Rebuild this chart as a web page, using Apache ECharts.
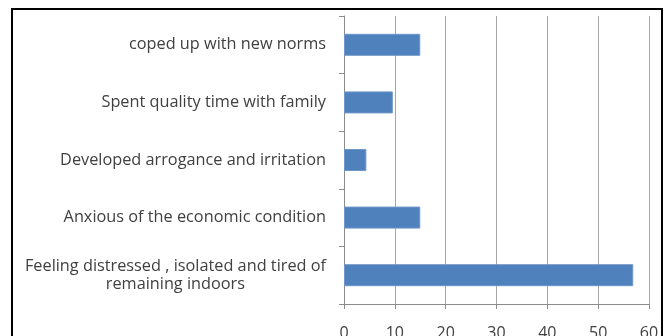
<!DOCTYPE html>
<html>
<head>
<meta charset="utf-8">
<script src="https://cdn.jsdelivr.net/npm/echarts@6/dist/echarts.min.js"></script>
<style>
  html, body { margin: 0; padding: 0; background: #fff; }
  #chart { width: 672px; height: 336px; }
</style>
</head>
<body>
<div id="chart"></div>
<script>
// Responses, listed bottom-to-top as they appear on the category axis
const categories = [
  'Feeling distressed , isolated and tired of\nremaining indoors',
  'Anxious of the economic condition',
  'Developed arrogance and irritation',
  'Spent quality time with family',
  'coped up with new norms'
];
const values = [56.9, 15, 4.4, 9.6, 15];
const xTicks = [0, 10, 20, 30, 40, 50, 60];

const chart = echarts.init(document.getElementById('chart'), null, { renderer: 'canvas' });

const labelFont = 'Open Sans';
const catFontSize = 16.3;
const catLineHeight = 18.5;
const textColor = '#404040';

// Measure text so a wrapped label's second line can be centred under the first
const measureCtx = document.createElement('canvas').getContext('2d');
measureCtx.font = catFontSize + 'px "' + labelFont + '"';
function textWidth(s) { return measureCtx.measureText(s).width; }
function wrapGap(label) {
  const parts = label.split('\n');
  if (parts.length < 2) return 0;
  return Math.max(0, Math.round((textWidth(parts[0]) - textWidth(parts[1])) / 2));
}

chart.setOption({
  animation: false,
  backgroundColor: '#ffffff',
  graphic: [{
    type: 'rect',
    shape: { x: 12, y: 9, width: 650, height: 360 },
    style: { fill: 'none', stroke: '#000000', lineWidth: 2 },
    silent: true,
    z: 100
  }],
  grid: {
    left: 344, right: 23, top: 16, bottom: 32,
    containLabel: false,
    outerBoundsMode: 'none'
  },
  xAxis: {
    type: 'value',
    min: xTicks[0],
    max: xTicks[xTicks.length - 1],
    interval: 10,
    axisLine: { show: true, lineStyle: { color: '#8c8c8c', width: 1 } },
    axisTick: { show: true, length: 5, lineStyle: { color: '#8c8c8c' } },
    splitLine: { show: true, lineStyle: { color: '#a6a6a6', width: 1 } },
    axisLabel: {
      margin: 21,
      color: textColor,
      fontFamily: labelFont,
      fontSize: 16,
      formatter: v => String(v)
    }
  },
  yAxis: {
    type: 'category',
    data: categories,
    axisLine: { show: true, lineStyle: { color: '#8c8c8c', width: 1 } },
    axisTick: { show: true, length: 5, lineStyle: { color: '#8c8c8c' } },
    axisLabel: {
      margin: 18,
      color: textColor,
      fontFamily: labelFont,
      fontSize: catFontSize,
      lineHeight: catLineHeight,
      formatter: function (v) {
        const parts = v.split('\n');
        if (parts.length === 1) return parts[0];
        // second line is followed by an empty spacer so it sits centred under the first
        return parts[0] + '\n{tail|' + parts[1] + '}{gap|}';
      },
      rich: {
        tail: {
          color: textColor,
          fontFamily: labelFont,
          fontSize: catFontSize,
          lineHeight: catLineHeight
        },
        gap: {
          width: wrapGap(categories[0]),
          lineHeight: catLineHeight
        }
      }
    }
  },
  series: [{
    type: 'bar',
    data: values,
    barWidth: 22,
    itemStyle: { color: '#4f81bd', borderColor: '#6f96c8', borderWidth: 1 }
  }]
});
</script>
</body>
</html>
